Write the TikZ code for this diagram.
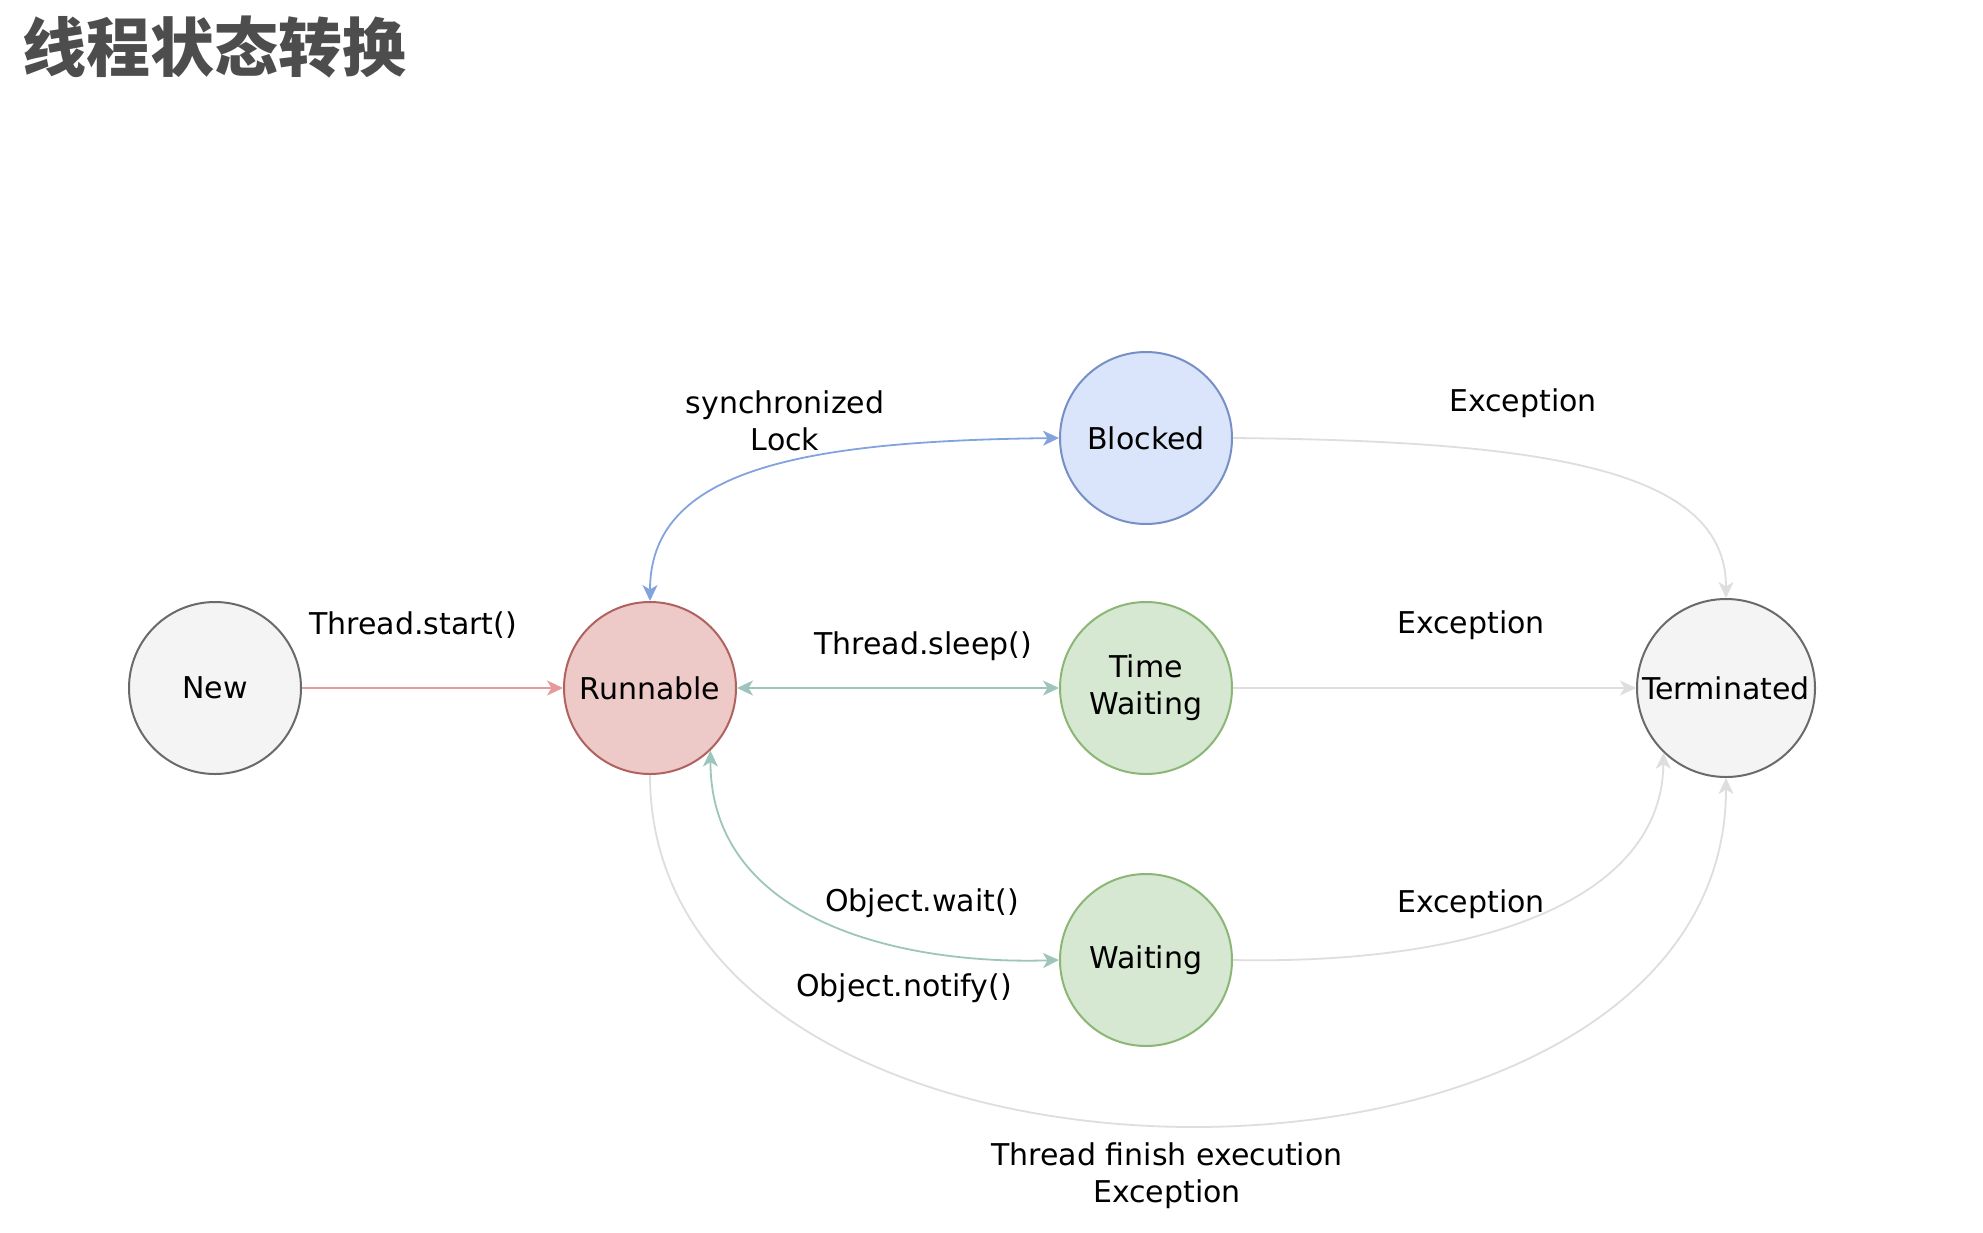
\documentclass[tikz,border=0pt]{standalone}
\usepackage{fontspec}
\setmainfont{DejaVu Sans}
\newfontfamily\cjk{Noto Sans CJK SC}
\usetikzlibrary{arrows.meta}
\definecolor{newfill}{HTML}{F4F4F4}
\definecolor{newdraw}{HTML}{6A6A6A}
\definecolor{runfill}{HTML}{EDC9C7}
\definecolor{rundraw}{HTML}{B0625E}
\definecolor{blkfill}{HTML}{DAE4FA}
\definecolor{blkdraw}{HTML}{7690C6}
\definecolor{grnfill}{HTML}{D6E7D2}
\definecolor{grndraw}{HTML}{8AB676}
\definecolor{redline}{HTML}{E39C99}
\definecolor{blueline}{HTML}{82A3DE}
\definecolor{greenline}{HTML}{9DC5BC}
\definecolor{grayline}{HTML}{DEDEDE}
\definecolor{titlec}{HTML}{4D4D4D}
\begin{document}
\begin{tikzpicture}[x=1pt,y=-1pt,
  state/.style={circle, line width=2pt, minimum size=172pt, inner sep=0pt, align=center,
    font=\fontsize{30}{37}\selectfont, text=black},
  lbl/.style={inner sep=0pt, align=center, font=\fontsize{30}{37}\selectfont, text=black},
  tip/.tip={Stealth[length=16pt,width=15pt,inset=4.5pt]},
  conn/.style={line width=1.8pt, -tip},
  both/.style={line width=1.8pt, tip-tip}]
\useasboundingbox[fill=white] (0,0) rectangle (1983,1232);

\node[anchor=base west, inner sep=0pt, text=titlec, font=\cjk\bfseries\fontsize{64}{70}\selectfont] (title) at (22,71) {线程状态转换};

\node[state, draw=newdraw, fill=newfill] (new) at (215,688) {New};
\node[state, draw=rundraw, fill=runfill] (run) at (650,688) {Runnable};
\node[state, draw=blkdraw, fill=blkfill] (blk) at (1146,438) {Blocked};
\node[state, draw=grndraw, fill=grnfill] (tw) at (1146,688) {Time\\Waiting};
\node[state, draw=grndraw, fill=grnfill] (wt) at (1146,960) {Waiting};
\node[state, draw=newdraw, fill=newfill, minimum size=178pt] (term) at (1726,688) {Terminated};

\draw[conn, redline] (new) -- (run);
\draw[both, blueline] (run.north) .. controls (650,470) and (800,441) .. (blk.west);
\draw[both, greenline] (run) -- (tw);
\draw[both, greenline] (run.-46) .. controls +(0,170) and (900,965) .. (wt.west);
\draw[conn, grayline] (blk.east) .. controls (1550,441) and (1726,470) .. (term.north);
\draw[conn, grayline] (tw) -- (term);
\draw[conn, grayline] (wt.east) .. controls (1480,965) and (1662,900) .. (term.226);
\draw[conn, grayline] (run.south) .. controls (650,1242) and (1726,1242) .. (term.south);

\node[lbl] (lstart) at (413,625) {Thread.start()};
\node[lbl] (lsync) at (785,421) {synchronized\\Lock};
\node[lbl] (lsleep) at (923,646) {Thread.sleep()};
\node[lbl] (lwait) at (922,903) {Object.wait()};
\node[lbl] (lnotify) at (904,988) {Object.notify()};
\node[lbl] (lexc1) at (1523,403) {Exception};
\node[lbl] (lexc2) at (1471,625) {Exception};
\node[lbl] (lexc3) at (1471,904) {Exception};
\node[lbl] (lfinish) at (1167,1176) {Thread finish execution\\Exception};
\end{tikzpicture}
\end{document}
